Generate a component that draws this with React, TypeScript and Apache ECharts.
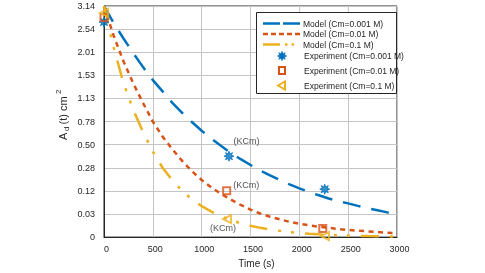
import React, { useEffect, useRef } from "react";
import * as echarts from "echarts";

// Time grid (s) for the model curves
const TIME = [0, 100, 200, 300, 400, 500, 600, 700, 800, 900, 1000, 1100, 1200, 1300, 1400, 1500, 1600, 1700, 1800, 1900, 2000, 2100, 2200, 2300, 2400, 2500, 2600, 2700, 2800, 2900, 3000];

// Model areas A_d(t) in cm^2
const MODEL_CM_0001 = [3.14, 2.69, 2.32, 1.99, 1.70, 1.45, 1.25, 1.06, 0.909, 0.779, 0.665, 0.570, 0.488, 0.416, 0.357, 0.306, 0.261, 0.224, 0.192, 0.163, 0.140, 0.119, 0.103, 0.0876, 0.0755, 0.0670, 0.0573, 0.0491, 0.0423, 0.0360, 0.0308];
const MODEL_CM_001 = [3.14, 2.378, 1.815, 1.389, 1.057, 0.785, 0.594, 0.454, 0.342, 0.255, 0.192, 0.145, 0.110, 0.0824, 0.0607, 0.0445, 0.0327, 0.0243, 0.0186, 0.0137, 0.0106, 0.00817, 0.00636, 0.00503, 0.00385, 0.00302, 0.00246, 0.00196, 0.00152, 0.00113, 0.00091];
const MODEL_CM_01 = [3.14, 2.112, 1.389, 0.950, 0.650, 0.430, 0.283, 0.189, 0.126, 0.0835, 0.0564, 0.0380, 0.0254, 0.0167, 0.0113, 0.00754, 0.00503, 0.00342, 0.00229, 0.00152, 0.00102, 0.00066, 0.00045, 0.0003, 0.0002, 0.00013, 0.00009, 0.00006, 0.00004, 0.000026, 0.000018];

// Experimental points
const EXP_TIME_0001 = [0, 1280, 2260];
const EXP_CM_0001 = [2.72, 0.385, 0.135];
const EXP_TIME_001 = [0, 1256, 2240];
const EXP_CM_001 = [2.835, 0.126, 0.0044];
const EXP_TIME_01 = [0, 1260, 2263];
const EXP_CM_01 = [2.956, 0.0191, 0.00005];

// Y tick labels (area, cm^2) from bottom to top
const Y_TICK_LABELS = ["0", "0.03", "0.12", "0.28", "0.50", "0.78", "1.13", "1.53", "2.01", "2.54", "3.14"];

const NAMES = [
  "Model (Cm=0.001 M)",
  "Model (Cm=0.01 M)",
  "Model (Cm=0.1 M)",
  "Experiment (Cm=0.001 M)",
  "Experiment (Cm=0.01 M)",
  "Experiment (Cm=0.1 M)",
];

const BLUE = "#0072BD";
const RED = "#D95319";
const YELLOW = "#EDB120";
const TXT = "#262626";
const FONT = "'Liberation Sans', Arial, sans-serif";

const BLUE_DASH = [18, 11];
const RED_DASH = [5, 4.5];
const YELLOW_DASH = [18, 11, 3, 10, 3, 11];

const toR = (a: number) => Math.sqrt(a / Math.PI);

const STAR_D =
  "M10 0 L4.6 1.9 L7.07 7.07 L1.9 4.6 L0 10 L-1.9 4.6 L-7.07 7.07 L-4.6 1.9 L-10 0 L-4.6 -1.9 L-7.07 -7.07 L-1.9 -4.6 L0 -10 L1.9 -4.6 L7.07 -7.07 L4.6 -1.9 Z";
const STAR = "path://" + STAR_D;

echarts.graphic.registerShape("legendStar", echarts.graphic.extendPath(STAR_D, {}) as any);

export default function App() {
  const ref = useRef<HTMLDivElement>(null);
  useEffect(() => {
    if (!ref.current) return;
    const chart = echarts.init(ref.current, null, { renderer: "svg" });

    const line = (vals: number[]) => TIME.map((t, i) => [t, toR(vals[i])]);
    const pts = (ts: number[], vals: number[], label: any) =>
      ts.map((t, i) =>
        i === 1
          ? { value: [t, toR(vals[i])], label: { show: true, formatter: "(KCm)", ...label } }
          : { value: [t, toR(vals[i])] }
      );
    const lab = { position: "right", fontSize: 9, color: TXT, fontFamily: FONT };

    // legend (drawn as graphic)
    const rowY = [23.5, 34, 44.5, 56, 70.5, 85.5];
    const lx1 = 263, lx2 = 300, mx = 282;
    const legTxt = (i: number, x: number) => ({
      type: "text",
      z: 6,
      x,
      y: rowY[i],
      style: { text: NAMES[i], fontSize: 8.5, fill: TXT, fontFamily: FONT, verticalAlign: "middle", align: "left" },
    });
    const legLine = (i: number, color: string, dash: number[]) => ({
      type: "line",
      z: 6,
      shape: { x1: lx1, y1: rowY[i], x2: lx2, y2: rowY[i] },
      style: { stroke: color, lineWidth: 2.5, lineDash: dash },
    });

    chart.setOption({
      animation: false,
      textStyle: { fontFamily: FONT },
      grid: { left: 104, right: 88, top: 6, bottom: 35, show: true, borderColor: TXT, borderWidth: 1 },
      xAxis: {
        type: "value",
        min: 0,
        max: 3000,
        interval: 500,
        axisLine: { show: true, lineStyle: { color: TXT } },
        axisTick: { show: false },
        splitLine: { show: true, lineStyle: { color: "#c4c4c4" } },
        axisLabel: { fontSize: 9, color: TXT, margin: 7, padding: [0, 0, 0, 5], formatter: (v: number) => String(v) },
        name: "Time (s)",
        nameLocation: "middle",
        nameGap: 18,
        nameTextStyle: { fontSize: 10, color: TXT, padding: [0, 0, 0, 12] },
      },
      yAxis: {
        type: "value",
        min: 0,
        max: 1,
        interval: 0.1,
        axisLine: { show: true, lineStyle: { color: TXT } },
        axisTick: { show: false },
        splitLine: { show: true, lineStyle: { color: "#c4c4c4" } },
        axisLabel: {
          fontSize: 9,
          color: TXT,
          margin: 9,
          formatter: (v: number) => Y_TICK_LABELS[Math.round(v * 10)] ?? "",
        },
      },
      graphic: [
        {
          type: "rect",
          z: 5,
          shape: { x: 256.5, y: 12.5, width: 140, height: 81 },
          style: { fill: "#fff", stroke: TXT, lineWidth: 1 },
        },
        legLine(0, BLUE, [17, 3]),
        legLine(1, RED, [5, 3]),
        legLine(2, YELLOW, [17, 5, 2.5, 4, 2.5, 10]),
        {
          type: "legendStar",
          z: 6,
          x: mx,
          y: rowY[3],
          scaleX: 0.45,
          scaleY: 0.45,
          style: { fill: BLUE, stroke: BLUE, lineWidth: 2 },
        },
        {
          type: "rect",
          z: 6,
          shape: { x: mx - 3, y: rowY[4] - 3.5, width: 6, height: 7 },
          style: { fill: "none", stroke: RED, lineWidth: 2 },
        },
        {
          type: "polygon",
          z: 6,
          shape: { points: [[mx - 4, rowY[5]], [mx + 3, rowY[5] - 4], [mx + 3, rowY[5] + 4]] },
          style: { fill: "none", stroke: YELLOW, lineWidth: 2 },
        },
        legTxt(0, 303),
        legTxt(1, 303),
        legTxt(2, 303),
        legTxt(3, 304),
        legTxt(4, 304),
        legTxt(5, 304),
        {
          type: "group",
          x: 62.5,
          y: 140,
          rotation: Math.PI / 2,
          children: [
            { type: "text", x: 0, y: 0, style: { text: "A", fontSize: 11, fill: TXT, fontFamily: FONT, verticalAlign: "middle", align: "left" } },
            { type: "text", x: 9, y: 3.5, style: { text: "d", fontSize: 8, fill: TXT, fontFamily: FONT, verticalAlign: "middle", align: "left" } },
            { type: "text", x: 15.5, y: 0, style: { text: "(t) cm", fontSize: 11, fill: TXT, fontFamily: FONT, verticalAlign: "middle", align: "left" } },
            { type: "text", x: 46, y: -4, style: { text: "2", fontSize: 8, fill: TXT, fontFamily: FONT, verticalAlign: "middle", align: "left" } },
          ],
        },
      ],
      series: [
        {
          name: NAMES[0],
          type: "line",
          data: line(MODEL_CM_0001),
          symbol: "none",
          color: BLUE,
          lineStyle: { color: BLUE, width: 2.5, type: BLUE_DASH },
          z: 2,
        },
        {
          name: NAMES[1],
          type: "line",
          data: line(MODEL_CM_001),
          symbol: "none",
          color: RED,
          lineStyle: { color: RED, width: 2.5, type: RED_DASH },
          z: 2,
        },
        {
          name: NAMES[2],
          type: "line",
          data: line(MODEL_CM_01),
          symbol: "none",
          color: YELLOW,
          lineStyle: { color: YELLOW, width: 2.5, type: YELLOW_DASH },
          z: 2,
        },
        {
          name: NAMES[3],
          type: "scatter",
          data: pts(EXP_TIME_0001, EXP_CM_0001, { ...lab, offset: [-6, -15] }),
          symbol: STAR,
          symbolSize: 10,
          itemStyle: { color: BLUE, borderColor: BLUE, borderWidth: 1 },
          z: 3,
        },
        {
          name: NAMES[4],
          type: "scatter",
          data: pts(EXP_TIME_001, EXP_CM_001, { ...lab, offset: [-3, -6] }),
          symbol: "rect",
          symbolSize: 7,
          itemStyle: { color: "rgba(255,255,255,0)", borderColor: RED, borderWidth: 2 },
          z: 3,
        },
        {
          name: NAMES[5],
          type: "scatter",
          data: pts(EXP_TIME_01, EXP_CM_01, { ...lab, offset: [-27, 9] }),
          symbol: "triangle",
          symbolRotate: 90,
          symbolSize: 8,
          itemStyle: { color: "rgba(255,255,255,0)", borderColor: YELLOW, borderWidth: 2 },
          z: 3,
        },
      ],
    });
    return () => chart.dispose();
  }, []);

  return <div ref={ref} style={{ position: "fixed", left: 0, top: 0, width: 485, height: 273 }} />;
}
